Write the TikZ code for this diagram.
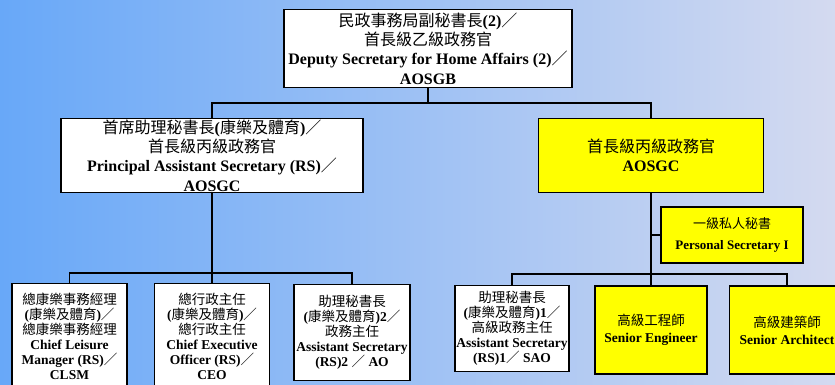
\documentclass[tikz,border=0pt]{standalone}
\usepackage{fontspec}
\setmainfont{Liberation Serif}
\newfontfamily\cjk{Noto Sans CJK TC}
\definecolor{bgL}{RGB}{104,168,248}
\definecolor{bgM}{RGB}{152,198,246}
\definecolor{bgR}{RGB}{212,218,240}
\definecolor{yel}{RGB}{255,255,0}
\newcommand{\zh}[1]{{\cjk\mdseries #1}}
\begin{document}
\begin{tikzpicture}[x=1pt,y=-1pt,
  box/.style={draw=black, line width=1.6pt, fill=white, inner sep=0pt, align=center},
  ybox/.style={box, fill=yel},
  conn/.style={draw=black, line width=1.8pt},
  big/.style={font=\fontsize{16}{19.3}\selectfont\bfseries},
  small/.style={font=\fontsize{13.5}{15}\selectfont\bfseries},
  mid/.style={font=\fontsize{13}{21}\selectfont\bfseries}]
\useasboundingbox (0,0) rectangle (835,385);
\clip (0,0) rectangle (835,385);
\shade[left color=bgL, middle color=bgM, right color=bgR] (0,0) rectangle (835,385);

% top level
\node[box, big, minimum width=288pt, minimum height=78pt] (top) at (428,48.5)
  {\zh{民政事務局副秘書長}(2)\zh{／}\\ \zh{首長級乙級政務官}\\ Deputy Secretary for Home Affairs (2)\zh{／}\\ AOSGB};

% second level
\node[box, big, minimum width=302pt, minimum height=74pt] (pas) at (212,155.5)
  {\zh{首席助理秘書長}(\zh{康樂及體育})\zh{／}\\ \zh{首長級丙級政務官}\\ Principal Assistant Secretary (RS)\zh{／}\\ AOSGC};
\node[ybox, big, minimum width=225pt, minimum height=74pt] (ygc) at (651,155.5)
  {\zh{首長級丙級政務官}\\ AOSGC};

\node[ybox, mid, minimum width=142pt, minimum height=56pt] (ps) at (732,235)
  {\zh{一級私人秘書}\\ Personal Secretary I};

% third level, left group
\node[box, small, minimum width=115pt, minimum height=105pt] (b1) at (69.5,336)
  {\zh{總康樂事務經理}\\ (\zh{康樂及體育})\zh{／}\\ \zh{總康樂事務經理}\\ Chief Leisure\\ Manager (RS)\zh{／}\\ CLSM};
\node[box, small, minimum width=115pt, minimum height=105pt] (b2) at (212,336)
  {\zh{總行政主任}\\ (\zh{康樂及體育})\zh{／}\\ \zh{總行政主任}\\ Chief Executive\\ Officer (RS)\zh{／}\\ CEO};
\node[box, small, minimum width=116pt, minimum height=96pt] (b3) at (352,332.5)
  {\zh{助理秘書長}\\ (\zh{康樂及體育})2\zh{／}\\ \zh{政務主任}\\ Assistant Secretary\\ (RS)2 \zh{／} AO};

% third level, right group
\node[box, small, minimum width=114pt, minimum height=86pt] (b4) at (512,328.5)
  {\zh{助理秘書長}\\ (\zh{康樂及體育})1\zh{／}\\ \zh{高級政務主任}\\ Assistant Secretary\\ (RS)1\zh{／} SAO};
\node[ybox, small, minimum width=112pt, minimum height=88pt] (b5) at (651,330)
  {\zh{高級工程師}\\[2pt] Senior Engineer};
\node[ybox, small, minimum width=115pt, minimum height=88pt] (b6) at (787,330)
  {\zh{高級建築師}\\[2pt] Senior Architect};

% connectors
\coordinate (j1) at (428,103);
\coordinate (j2) at (212,273);
\coordinate (j3) at (651,274);
\draw[conn] (top.south) -- (j1);
\draw[conn] (pas.north) -- (pas.north |- j1) -- (ygc.north |- j1) -- (ygc.north);
\draw[conn] (pas.south) -- (j2);
\draw[conn] (b1.north) -- (b1.north |- j2) -- (b3.north |- j2) -- (b3.north);
\draw[conn] (j2) -- (b2.north);
\draw[conn] (ygc.south) -- (b5.north);
\draw[conn] (b4.north) -- (b4.north |- j3) -- (b6.north |- j3) -- (b6.north);
\draw[conn] (ps.west) -- (ps.west -| ygc.south);
\end{tikzpicture}
\end{document}
